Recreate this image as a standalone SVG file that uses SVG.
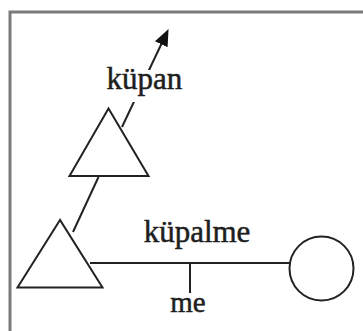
<svg xmlns="http://www.w3.org/2000/svg" width="363" height="331" viewBox="0 0 363 331">
  <style>
    .shape { fill: #ffffff; stroke: #222222; stroke-width: 2; stroke-linejoin: miter; }
    .edge { fill: none; stroke: #222222; stroke-width: 2; }
    .lbl { font-family: "Liberation Serif", "Times New Roman", serif; font-size: 31px; fill: #1e1e1e; stroke: #1e1e1e; stroke-width: 0.5; text-anchor: middle; }
    .frame { fill: none; stroke: #7a7a7a; stroke-width: 3; }
  </style>
  <defs>
    <marker id="arrow" viewBox="0 0 17 14" refX="5" refY="7" markerWidth="17" markerHeight="14" markerUnits="userSpaceOnUse" orient="auto">
      <path d="M0,0 L17,7 L0,14 z" fill="#111111"/>
    </marker>
  </defs>
  <rect width="363" height="331" fill="#ffffff"/>
  <path class="frame" d="M10,331 L10,12 L363,12"/>

  <g id="connectors">
    <line class="edge" x1="73" y1="232" x2="98.5" y2="177"/>
    <line class="edge" x1="122" y1="127" x2="163.4" y2="39.8" marker-end="url(#arrow)"/>
    <line class="edge" x1="90" y1="263" x2="290" y2="263"/>
    <line class="edge" x1="190" y1="263" x2="190" y2="293"/>
  </g>

  <g id="label-kupan">
    <rect x="105" y="70" width="80" height="32" fill="#ffffff"/>
    <text class="lbl" x="144.5" y="89">küpan</text>
  </g>
  <g id="label-kupalme">
    <text class="lbl" x="197" y="242">küpalme</text>
  </g>
  <g id="label-me">
    <text class="lbl" x="188" y="312" style="font-size:29px">me</text>
  </g>

  <g id="node-upper-triangle">
    <polygon class="shape" points="108.5,108.5 69.5,176 148.5,176"/>
  </g>
  <g id="node-lower-triangle">
    <polygon class="shape" points="60,220 17.5,287.5 102.5,287.5"/>
  </g>
  <g id="node-circle">
    <circle class="shape" cx="321.5" cy="268.5" r="32"/>
  </g>
</svg>
